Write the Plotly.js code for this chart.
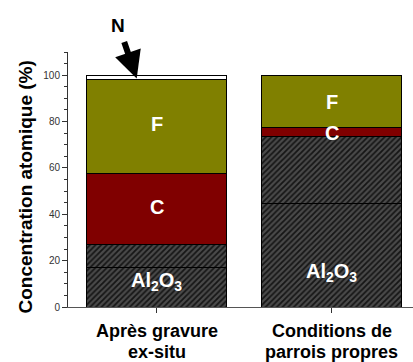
<!DOCTYPE html>
<html><head><meta charset="utf-8">
<script src="https://cdn.plot.ly/plotly-3.0.1.min.js"></script>
<style>body{margin:0;background:#fff}#chart{width:413px;height:362px}</style>
</head><body><div id="chart"></div>
<script>
const categories = ["Après gravure<br>ex-situ", "Conditions de<br>parrois propres"];
const al2o3 = [17.2, 44.8];
const oxide = [9.8, 28.7];
const carbon = [30.5, 4.1];
const fluorine = [40.7, 22.4];
const nitrogen = [1.8, 0];
const yTicks = [0, 20, 40, 60, 80, 100];
const yTitle = "Concentration atomique (%)";

const hatch = {shape: "/", bgcolor: "#4a4a4a", fgcolor: "#151515", size: 4, solidity: 0.45};
const line = {color: "#000", width: 1};
function seg(vals, color, pattern) {
  const m = {color: color, line: line};
  if (pattern) m.pattern = pattern;
  return {type: "bar", x: categories, y: vals, marker: m, width: 0.8, hoverinfo: "skip"};
}
const data = [
  seg(al2o3, "#4a4a4a", hatch),
  seg(oxide, "#4a4a4a", hatch),
  seg(carbon, "#800000"),
  seg(fluorine, "#808000"),
  seg(nitrogen, "#ffffff")
];
const FF = "Liberation Sans, Arial, sans-serif";
const lf = {family: FF, size: 20, color: "#fff"};
function lab(i, y, t) { return {x: categories[i], y: y, text: "<b>" + t + "</b>", showarrow: false, font: lf}; }
const annotations = [
  lab(0, 79, "F"), lab(0, 43, "C"), lab(0, 11, "Al<sub>2</sub>O<sub>3</sub>"),
  lab(1, 88.5, "F"), lab(1, 75, "C"), lab(1, 15, "Al<sub>2</sub>O<sub>3</sub>"),
  {x: categories[0], xshift: -39, y: 1, yref: "paper", yanchor: "middle", yshift: 27,
   text: "<b>N</b>", showarrow: false, font: {family: FF, size: 19, color: "#000"}},
  {x: categories[0], xshift: -20, y: 98.6, text: "", showarrow: true, arrowhead: 2, arrowsize: 0.9,
   arrowwidth: 6, arrowcolor: "#000", ax: -13, ay: -38, standoff: 0},
  {xref: "paper", x: 0, xanchor: "center", xshift: -43, yref: "paper", y: 0.5, yanchor: "middle",
   yshift: -8, textangle: -90,
   text: "<b>" + yTitle + "</b>", showarrow: false, font: {family: FF, size: 19, color: "#000"}}
];
categories.forEach(function (c) {
  c.split("<br>").forEach(function (ln, k) {
    annotations.push({x: c, y: 0, yref: "paper", yanchor: "middle", yshift: -24 - 21 * k,
      text: "<b>" + ln + "</b>", showarrow: false, font: {family: FF, size: 18, color: "#000"}});
  });
});
const layout = {
  width: 413, height: 362, barmode: "stack", showlegend: false,
  margin: {l: 68, r: 0, t: 52, b: 55},
  paper_bgcolor: "#fff", plot_bgcolor: "#fff",
  font: {family: FF},
  xaxis: {range: [-0.507, 1.465], showline: true, linecolor: "#555", linewidth: 1,
    ticks: "outside", ticklen: 5, tickcolor: "#333", showgrid: false, zeroline: false,
    showticklabels: false},
  yaxis: {range: [0, 110], showline: true, linecolor: "#333", linewidth: 1,
    tickvals: yTicks, ticks: "outside", ticklen: 5, tickcolor: "#333",
    minor: {dtick: 5, ticks: "outside", ticklen: 3, tickcolor: "#333"},
    showgrid: false, zeroline: false, tickfont: {size: 10, color: "#333"}},
  annotations: annotations
};
Plotly.newPlot("chart", data, layout, {displayModeBar: false, staticPlot: true});
</script></body></html>
